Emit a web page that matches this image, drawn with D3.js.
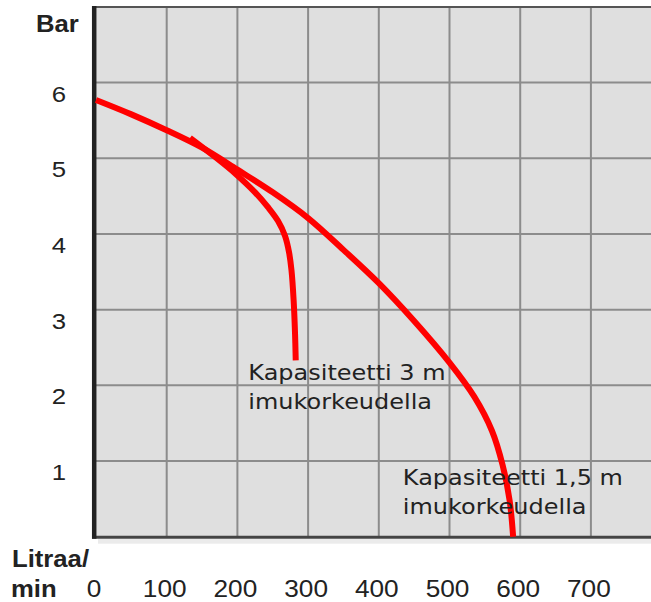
<!DOCTYPE html>
<html>
<head>
<meta charset="utf-8">
<title>Kapasiteetti</title>
<script src="https://cdn.jsdelivr.net/npm/d3@7/dist/d3.min.js"></script>
<style>
  html, body { margin: 0; padding: 0; background: #fff; }
  #chart { width: 651px; height: 602px; }
</style>
</head>
<body>
<div id="chart"></div>
<script>
// ---- 1) DATA (read off the picture) ----
// pump curve, 1,5 m suction height
const flow15 = [0, 50, 100, 150, 200, 250, 300, 350, 400, 450, 500, 535, 560, 575, 585, 590];
const bar15  = [5.77, 5.58, 5.37, 5.14, 4.85, 4.55, 4.21, 3.79, 3.35, 2.85, 2.30, 1.85, 1.40, 0.95, 0.48, 0];

// pump curve, 3 m suction height (branches off the first one)
const flow3 = [133, 168, 198, 225, 243.5, 257.5, 267.5, 273, 276.5, 279.5, 281.5, 282.5];
const bar3  = [5.27, 5.02, 4.79, 4.55, 4.35, 4.17, 3.97, 3.76, 3.52, 3.13, 2.69, 2.33];

const xTicks = [0, 100, 200, 300, 400, 500, 600, 700];
const yTicks = [1, 2, 3, 4, 5, 6];

// label texts, anchored at (flow, bar)
const notes = [
  { lines: ["Kapasiteetti 3 m", "imukorkeudella"], flow: 215.5, bar: 2.07 },
  { lines: ["Kapasiteetti 1,5 m", "imukorkeudella"], flow: 434, bar: 0.68 }
];

// ---- 2) DRAW ----
function drawChart() {
  const W = 651, H = 602;
  const svg = d3.select('#chart').append('svg')
    .attr('width', W)
    .attr('height', H);

  const x = d3.scaleLinear().domain([0, 785]).range([96, 651]);
  const y = d3.scaleLinear().domain([0, 7]).range([536.7, 6.9]);

  // plot background
  svg.append('rect')
    .attr('x', x(0)).attr('y', y(7))
    .attr('width', W - x(0)).attr('height', y(0) - y(7))
    .attr('fill', '#dfdfdf');

  // shadow under the bottom edge
  svg.append('rect')
    .attr('x', x(0) + 2).attr('y', y(0) + 2)
    .attr('width', W).attr('height', 5)
    .attr('fill', '#ebebeb');

  // grid
  const grid = svg.append('g').attr('stroke', '#8c8c8c').attr('stroke-width', 2);
  grid.selectAll('line.v')
    .data(xTicks.filter(d => d > 0))
    .join('line')
    .attr('class', 'v')
    .attr('x1', d => x(d)).attr('x2', d => x(d))
    .attr('y1', y(7)).attr('y2', y(0));
  grid.selectAll('line.h')
    .data(yTicks)
    .join('line')
    .attr('class', 'h')
    .attr('x1', x(0)).attr('x2', W)
    .attr('y1', d => y(d)).attr('y2', d => y(d));

  // frame
  svg.append('line')
    .attr('x1', 92).attr('x2', W)
    .attr('y1', y(7)).attr('y2', y(7))
    .attr('stroke', '#555').attr('stroke-width', 2);
  svg.append('line')
    .attr('x1', 92).attr('x2', W)
    .attr('y1', y(0) + 0.6).attr('y2', y(0) + 0.6)
    .attr('stroke', '#444').attr('stroke-width', 3);
  svg.append('line')
    .attr('x1', x(0) - 1.8).attr('x2', x(0) - 1.8)
    .attr('y1', y(7) - 1).attr('y2', y(0) + 2)
    .attr('stroke', '#222').attr('stroke-width', 4.5);

  // curves
  const line = d3.line()
    .x(d => x(d[0]))
    .y(d => y(d[1]))
    .curve(d3.curveCatmullRom.alpha(0.5));

  [[flow15, bar15], [flow3, bar3]].forEach(([fx, by]) => {
    svg.append('path')
      .datum(d3.zip(fx, by))
      .attr('d', line)
      .attr('fill', 'none')
      .attr('stroke', '#ff0000')
      .attr('stroke-width', 6)
      .attr('stroke-linejoin', 'round');
  });

  // curve labels
  notes.forEach(n => {
    const g = svg.append('g')
      .attr('transform', `translate(${x(n.flow)},${y(n.bar)}) scale(1.09,1)`);
    g.selectAll('text')
      .data(n.lines)
      .join('text')
      .attr('x', 0)
      .attr('y', (d, i) => i * 29)
      .attr('font-family', '"DejaVu Sans", Verdana, sans-serif')
      .attr('font-size', 22)
      .attr('fill', '#222')
      .text(d => d);
  });

  // axis labels (the source picture is a little stretched sideways)
  const axisFont = '"Liberation Sans", Arial, sans-serif';
  svg.append('g')
    .selectAll('text')
    .data(yTicks)
    .join('text')
    .attr('transform', d => `translate(59,${y(d) + 19}) scale(1.12,1)`)
    .attr('text-anchor', 'middle')
    .attr('font-family', axisFont)
    .attr('font-size', 23)
    .attr('fill', '#222')
    .text(d => d);

  svg.append('g')
    .selectAll('text')
    .data(xTicks)
    .join('text')
    .attr('transform', d => `translate(${x(d) - 2},597) scale(1.14,1)`)
    .attr('text-anchor', 'middle')
    .attr('font-family', axisFont)
    .attr('font-size', 23)
    .attr('fill', '#222')
    .text(d => d);

  const titles = [
    { t: 'Bar', x: 36, y: 32 },
    { t: 'Litraa/', x: 12, y: 567 },
    { t: 'min', x: 11, y: 597 }
  ];
  svg.append('g')
    .selectAll('text')
    .data(titles)
    .join('text')
    .attr('transform', d => `translate(${d.x},${d.y}) scale(1.07,1)`)
    .attr('font-family', axisFont)
    .attr('font-weight', 'bold')
    .attr('font-size', 24)
    .attr('fill', '#222')
    .text(d => d.t);
}

// ---- 3) BOOT ----
document.addEventListener('DOMContentLoaded', () => {
  try {
    drawChart();
  } catch (err) {
    console.error(err);
  }
});
</script>
</body>
</html>
